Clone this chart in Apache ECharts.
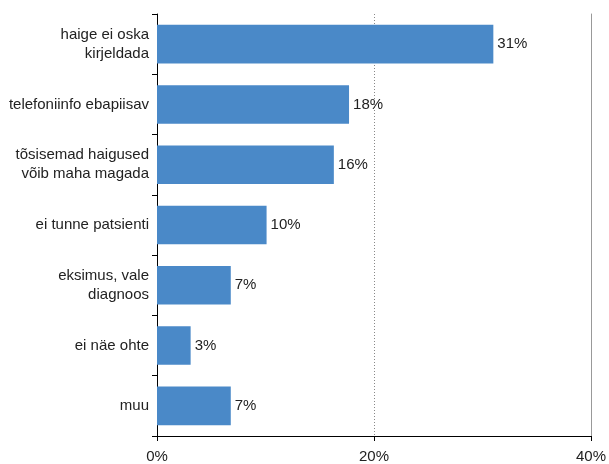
<!DOCTYPE html>
<html>
<head>
<meta charset="utf-8">
<script src="https://cdn.jsdelivr.net/npm/echarts@6/dist/echarts.min.js"></script>
<style>html,body{margin:0;padding:0;background:#fff}#c{width:609px;height:464px}</style>
</head>
<body>
<div id="c"></div>
<script>
const categories = ["haige ei oska\nkirjeldada", "telefoniinfo ebapiisav", "tõsisemad haigused\nvõib maha magada", "ei tunne patsienti", "eksimus, vale\ndiagnoos", "ei näe ohte", "muu"];
const values = [31.0, 17.7, 16.3, 10.1, 6.8, 3.1, 6.8];
const labels = ["31%", "18%", "16%", "10%", "7%", "3%", "7%"];
const xTicks = [0, 20, 40];

const chart = echarts.init(document.getElementById('c'), null, {renderer: 'canvas'});
const font = 'Liberation Sans, Arial, sans-serif';
chart.setOption({
  animation: false,
  grid: {left: 157, right: 16, top: 14, bottom: 27, containLabel: false},
  xAxis: {
    type: 'value', min: xTicks[0], max: xTicks[xTicks.length - 1], interval: 20,
    axisLine: {show: true, lineStyle: {color: '#000', width: 1}},
    axisTick: {show: true, length: 5, lineStyle: {color: '#000'}},
    axisLabel: {formatter: v => v + '%', color: '#222', fontSize: 15, fontFamily: font, margin: 13},
    splitLine: {show: true, lineStyle: {type: [1, 2], color: '#888', width: 1}}
  },
  yAxis: [{
    type: 'category', data: categories, inverse: true,
    axisLine: {show: true, lineStyle: {color: '#000', width: 1}},
    axisTick: {show: true, length: 5, alignWithLabel: false, lineStyle: {color: '#000'}},
    axisLabel: {color: '#222', fontSize: 15, fontFamily: font, margin: 8, lineHeight: 19, align: 'right'}
  }, {
    type: 'category', data: categories, inverse: true, position: 'right',
    axisLine: {show: true, lineStyle: {color: '#999', width: 1}},
    axisTick: {show: false}, axisLabel: {show: false}
  }],
  series: [{
    type: 'bar', data: values, barWidth: '64%', yAxisIndex: 0,
    itemStyle: {color: '#4a89c8'},
    label: {show: true, position: 'right', distance: 4, color: '#222', fontSize: 15, fontFamily: font,
      formatter: p => labels[p.dataIndex]}
  }]
});
</script>
</body>
</html>
